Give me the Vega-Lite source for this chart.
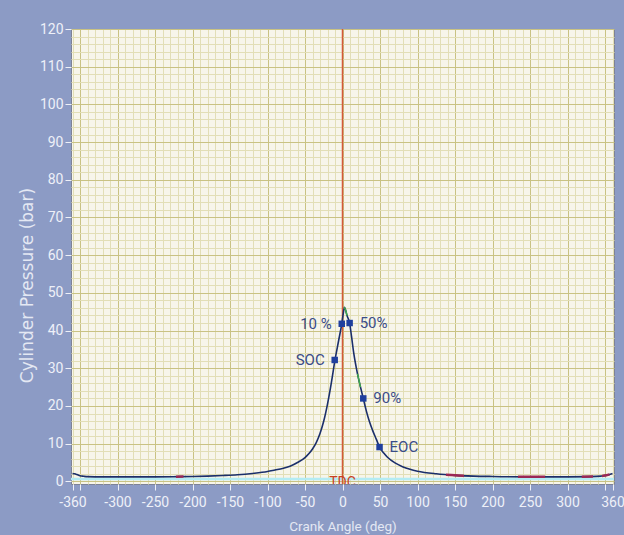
{
  "$schema": "https://vega.github.io/schema/vega-lite/v6.json",
  "width": 543,
  "height": 455,
  "autosize": "none",
  "padding": {"left": 71, "top": 29, "right": 10, "bottom": 51},
  "background": "#8c9bc5",
  "config": {
    "font": "Roboto",
    "view": {"fill": "#f7f5ea", "stroke": "#7d8296", "strokeWidth": 1}
  },
  "datasets": {
    "curve": [
      {"angle": -360, "p": 2.1}, {"angle": -357, "p": 2.0}, {"angle": -354, "p": 1.8},
      {"angle": -350, "p": 1.5}, {"angle": -345, "p": 1.35}, {"angle": -340, "p": 1.25},
      {"angle": -320, "p": 1.2}, {"angle": -300, "p": 1.2}, {"angle": -280, "p": 1.2},
      {"angle": -250, "p": 1.2}, {"angle": -220, "p": 1.25}, {"angle": -200, "p": 1.3},
      {"angle": -180, "p": 1.4}, {"angle": -160, "p": 1.55}, {"angle": -140, "p": 1.75},
      {"angle": -120, "p": 2.1}, {"angle": -100, "p": 2.6}, {"angle": -90, "p": 3.0},
      {"angle": -80, "p": 3.4}, {"angle": -70, "p": 4.0}, {"angle": -60, "p": 5.0},
      {"angle": -50, "p": 6.3}, {"angle": -45, "p": 7.3}, {"angle": -40, "p": 8.6},
      {"angle": -35, "p": 10.3}, {"angle": -30, "p": 12.7}, {"angle": -25, "p": 16.0},
      {"angle": -20, "p": 20.5}, {"angle": -15, "p": 26.0}, {"angle": -10, "p": 32.2},
      {"angle": -5, "p": 37.5}, {"angle": -1, "p": 41.8}, {"angle": 1, "p": 44.5},
      {"angle": 2.5, "p": 46.2}, {"angle": 4, "p": 45.5}, {"angle": 6, "p": 44.0},
      {"angle": 9.5, "p": 42.0}, {"angle": 12, "p": 38.5}, {"angle": 15, "p": 34.0},
      {"angle": 20, "p": 28.5}, {"angle": 24, "p": 25.0}, {"angle": 27.7, "p": 22.0},
      {"angle": 32, "p": 18.5}, {"angle": 36, "p": 15.8}, {"angle": 40, "p": 13.6},
      {"angle": 45, "p": 11.2}, {"angle": 49.4, "p": 9.1}, {"angle": 55, "p": 7.5},
      {"angle": 60, "p": 6.4}, {"angle": 70, "p": 4.9}, {"angle": 80, "p": 3.9},
      {"angle": 90, "p": 3.2}, {"angle": 100, "p": 2.7}, {"angle": 125, "p": 2.0},
      {"angle": 150, "p": 1.6}, {"angle": 175, "p": 1.4}, {"angle": 200, "p": 1.3},
      {"angle": 250, "p": 1.2}, {"angle": 300, "p": 1.2}, {"angle": 330, "p": 1.25},
      {"angle": 345, "p": 1.4}, {"angle": 352, "p": 1.6}, {"angle": 357, "p": 1.9},
      {"angle": 360, "p": 2.1}
    ],
    "overlay": [
      {"seg": "a", "angle": -222, "p": 1.25}, {"seg": "a", "angle": -212, "p": 1.27},
      {"seg": "b", "angle": 138, "p": 1.75}, {"seg": "b", "angle": 150, "p": 1.6}, {"seg": "b", "angle": 162, "p": 1.5},
      {"seg": "c", "angle": 234, "p": 1.22}, {"seg": "c", "angle": 250, "p": 1.2}, {"seg": "c", "angle": 270, "p": 1.2},
      {"seg": "d", "angle": 319, "p": 1.22}, {"seg": "d", "angle": 334, "p": 1.27},
      {"seg": "e", "angle": 346, "p": 1.45}, {"seg": "e", "angle": 352, "p": 1.6}, {"seg": "e", "angle": 356, "p": 1.85}
    ],
    "green": [
      {"seg": "g1", "angle": 2.5, "p": 46.2}, {"seg": "g1", "angle": 4, "p": 45.5}, {"seg": "g1", "angle": 6, "p": 44.0},
      {"seg": "g2", "angle": 20, "p": 28.5}, {"seg": "g2", "angle": 24, "p": 25.0}
    ],
    "floor": [
      {"angle": -362, "p": 0.65}, {"angle": 362, "p": 0.65}
    ],
    "tdc": [
      {"angle": 0, "p": -0.7, "p2": 120, "label": "TDC"}
    ],
    "markers": [
      {"angle": -10.4, "p": 32.2, "label": "SOC"},
      {"angle": -1, "p": 41.8, "label": "10 %"},
      {"angle": 9.5, "p": 42.0, "label": "50%"},
      {"angle": 27.7, "p": 22.0, "label": "90%"},
      {"angle": 49.4, "p": 9.1, "label": "EOC"}
    ]
  },
  "encoding": {
    "x": {
      "field": "angle",
      "type": "quantitative",
      "scale": {"domain": [-362, 362], "nice": false, "zero": false},
      "axis": {
        "values": [-360,-350,-340,-330,-320,-310,-300,-290,-280,-270,-260,-250,-240,-230,-220,-210,-200,-190,-180,-170,-160,-150,-140,-130,-120,-110,-100,-90,-80,-70,-60,-50,-40,-30,-20,-10,0,10,20,30,40,50,60,70,80,90,100,110,120,130,140,150,160,170,180,190,200,210,220,230,240,250,260,270,280,290,300,310,320,330,340,350,360],
        "title": "Crank Angle (deg)",
        "titleColor": "#e4e8f3",
        "titleFont": "Roboto",
        "titleFontSize": 13.5,
        "titleFontWeight": "normal",
        "titlePadding": 10,
        "labelColor": "#eef0f8",
        "labelFont": "Roboto",
        "labelFontSize": 14,
        "labelFlush": false,
        "labelOverlap": false,
        "labelPadding": 5,
        "labelExpr": "((datum.value % 50 === 0 && abs(datum.value) !== 350) || abs(datum.value) === 360) ? '' + datum.value : ''",
        "domain": false,
        "tickSize": 6,
        "tickWidth": 1,
        "tickColor": {"condition": {"test": "datum.value % 50 === 0 || abs(datum.value) === 360", "value": "#eef0f8"}, "value": "transparent"},
        "grid": true,
        "gridOpacity": 1,
        "gridWidth": 1,
        "gridColor": {"condition": {"test": "datum.value % 50 === 0", "value": "#c9c283"}, "value": "#e2deb6"}
      }
    },
    "y": {
      "field": "p",
      "type": "quantitative",
      "scale": {"domain": [-0.7, 120], "nice": false, "zero": false},
      "axis": {
        "values": [0,2,4,6,8,10,12,14,16,18,20,22,24,26,28,30,32,34,36,38,40,42,44,46,48,50,52,54,56,58,60,62,64,66,68,70,72,74,76,78,80,82,84,86,88,90,92,94,96,98,100,102,104,106,108,110,112,114,116,118,120],
        "title": "Cylinder Pressure (bar)",
        "titleColor": "#e4e8f3",
        "titleFont": "DejaVu Sans",
        "titleFontSize": 17,
        "titleFontWeight": "normal",
        "titleBaseline": "middle",
        "titleX": -44,
        "titleY": 256,
        "labelColor": "#eef0f8",
        "labelFont": "Roboto",
        "labelFontSize": 14,
        "labelFlush": false,
        "labelOverlap": false,
        "labelPadding": 2,
        "labelExpr": "datum.value % 10 === 0 ? '' + datum.value : ''",
        "domain": false,
        "tickSize": 6,
        "tickWidth": 1,
        "tickColor": {"condition": {"test": "datum.value % 10 === 0", "value": "#eef0f8"}, "value": "transparent"},
        "grid": true,
        "gridOpacity": 1,
        "gridWidth": 1,
        "gridColor": {"condition": {"test": "datum.value % 10 === 0", "value": "#c9c283"}, "value": "#e2deb6"}
      }
    }
  },
  "layer": [
    {
      "data": {"name": "floor"},
      "mark": {"type": "line", "color": "#b4ecf4", "strokeWidth": 2.5, "clip": true}
    },
    {
      "data": {"name": "tdc"},
      "mark": {"type": "rule", "color": "#d45a38", "strokeWidth": 1.5},
      "encoding": {"y2": {"field": "p2"}}
    },
    {
      "data": {"name": "curve"},
      "mark": {"type": "line", "color": "#1b2f6a", "strokeWidth": 1.6, "interpolate": "monotone"}
    },
    {
      "data": {"name": "overlay"},
      "mark": {"type": "line", "color": "#9a2855", "strokeWidth": 2.5, "interpolate": "monotone"},
      "encoding": {"detail": {"field": "seg"}}
    },
    {
      "data": {"name": "green"},
      "mark": {"type": "line", "color": "#3fae4a", "strokeWidth": 1.4, "interpolate": "monotone"},
      "encoding": {"detail": {"field": "seg"}}
    },
    {
      "data": {"name": "markers"},
      "mark": {"type": "point", "shape": "square", "filled": true, "color": "#1f3f9e", "size": 42, "opacity": 1}
    },
    {
      "data": {"name": "markers"},
      "transform": [{"filter": "indexof(['50%', '90%', 'EOC'], datum.label) >= 0"}],
      "mark": {"type": "text", "align": "left", "baseline": "middle", "dx": 10, "font": "Roboto", "fontSize": 15, "color": "#3a4c88"},
      "encoding": {"text": {"field": "label"}}
    },
    {
      "data": {"name": "markers"},
      "transform": [{"filter": "indexof(['10 %', 'SOC'], datum.label) >= 0"}],
      "mark": {"type": "text", "align": "right", "baseline": "middle", "dx": -10, "font": "Roboto", "fontSize": 15, "color": "#3a4c88"},
      "encoding": {"text": {"field": "label"}}
    },
    {
      "data": {"name": "tdc"},
      "mark": {"type": "text", "align": "center", "baseline": "alphabetic", "dy": 6, "font": "Roboto", "fontSize": 14, "color": "#c8401f", "clip": true},
      "encoding": {"y": {"datum": 0}, "text": {"field": "label"}}
    }
  ]
}
